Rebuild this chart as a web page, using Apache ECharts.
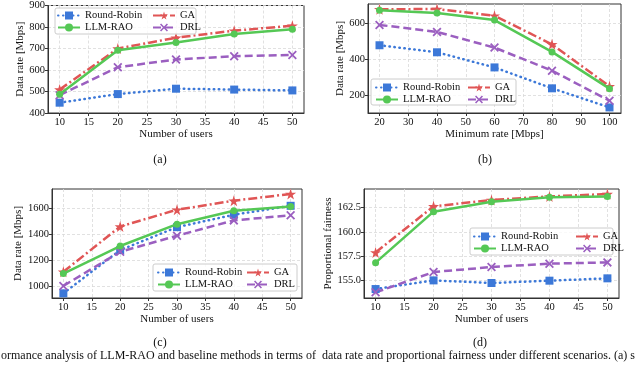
<!DOCTYPE html>
<html>
<head>
<meta charset="utf-8">
<script src="https://cdn.jsdelivr.net/npm/echarts@6/dist/echarts.min.js"></script>
<style>
  html, body { margin: 0; padding: 0; background: #fff; }
  #chart { width: 640px; height: 365px; }
</style>
</head>
<body>
<div id="chart"></div>
<script>
// data
const seriesNames = ['Round-Robin', 'LLM-RAO', 'GA', 'DRL'];

const usersA = [10, 20, 30, 40, 50];
const rrA = [448, 488, 513, 509, 505];
const llmA = [487, 692, 728, 767, 789];
const gaA = [509, 700, 750, 783, 806];
const drlA = [483, 613, 649, 664, 670];

const minRateB = [20, 40, 60, 80, 100];
const rrB = [480, 441, 357, 241, 135];
const llmB = [674, 659, 620, 443, 239];
const gaB = [680, 681, 644, 485, 252];
const drlB = [593, 554, 467, 339, 172];

const usersC = [10, 20, 30, 40, 50];
const rrC = [943, 1275, 1451, 1546, 1615];
const llmC = [1095, 1306, 1474, 1577, 1610];
const gaC = [1108, 1456, 1585, 1654, 1706];
const drlC = [1000, 1262, 1385, 1503, 1542];

const usersD = [10, 20, 30, 40, 50];
const rrD = [154.14, 155.03, 154.76, 155.0, 155.24];
const llmD = [156.85, 162.09, 163.12, 163.56, 163.66];
const gaD = [157.9, 162.64, 163.29, 163.66, 163.9];
const drlD = [153.8, 155.89, 156.4, 156.75, 156.88];

const xTicksUsers = [10, 15, 20, 25, 30, 35, 40, 45, 50];
const xTicksRate = [20, 30, 40, 50, 60, 70, 80, 90, 100];
const yTicksA = [400, 500, 600, 700, 800, 900];
const yTicksB = [200, 400, 600];
const yTicksC = [1000, 1200, 1400, 1600];
const yTicksD = [155, 157.5, 160, 162.5];

const FONT = '"Liberation Serif", "DejaVu Serif", serif';
const colors = ['#3c78d8', '#55c855', '#e05555', '#9b5fc0'];
const starPath = 'path://M50,0L61,35L98,35L68,57L79,91L50,70L21,91L32,57L2,35L39,35Z';
const xPath = 'path://M0,1.4L1.4,0L5,3.6L8.6,0L10,1.4L6.4,5L10,8.6L8.6,10L5,6.4L1.4,10L0,8.6L3.6,5Z';
const styles = [
  { symbol: 'rect', symbolSize: 8, type: [0.5, 4.5], cap: 'round' },
  { symbol: 'circle', symbolSize: 7, type: 'solid', cap: 'butt' },
  { symbol: starPath, symbolSize: 11, type: [9, 3, 2, 3], cap: 'butt' },
  { symbol: xPath, symbolSize: 9, type: [8, 4], cap: 'butt' }
];

const grids = [
  { left: 48, top: 5, width: 256, height: 108 },
  { left: 368, top: 4, width: 253, height: 109 },
  { left: 52, top: 189, width: 250, height: 109 },
  { left: 364, top: 189, width: 255, height: 109 }
];

function xAxis(idx, min, max, ticks, name) {
  return {
    type: 'value', gridIndex: idx, min: min, max: max,
    name: name, nameLocation: 'middle', nameGap: 14,
    nameTextStyle: { fontFamily: FONT, fontSize: 11, color: '#111' },
    axisLine: { show: true, lineStyle: { color: '#333', width: 1 } },
    axisTick: { show: true, length: 3, customValues: ticks, lineStyle: { color: '#333' } },
    axisLabel: { customValues: ticks, fontFamily: FONT, fontSize: 10.5, color: '#111', margin: 4 },
    splitLine: { show: true, lineStyle: { color: '#d9d9d9', type: [3, 2], width: 0.8 } }
  };
}
function yAxis(idx, min, max, ticks, name, gap, fmt) {
  return {
    type: 'value', gridIndex: idx, min: min, max: max,
    name: name, nameLocation: 'middle', nameGap: gap,
    nameTextStyle: { fontFamily: FONT, fontSize: 11, color: '#111' },
    axisLine: { show: true, lineStyle: { color: '#333', width: 1 } },
    axisTick: { show: true, length: 3, customValues: ticks, lineStyle: { color: '#333' } },
    axisLabel: { customValues: ticks, fontFamily: FONT, fontSize: 10.5, color: '#111', margin: 3, formatter: fmt || (v => String(v)) },
    splitLine: { show: true, lineStyle: { color: '#d9d9d9', type: [3, 2], width: 0.8 } }
  };
}

function pairs(xs, ys) { return xs.map((x, i) => [x, ys[i]]); }

const panelData = [
  [usersA, [rrA, llmA, gaA, drlA]],
  [minRateB, [rrB, llmB, gaB, drlB]],
  [usersC, [rrC, llmC, gaC, drlC]],
  [usersD, [rrD, llmD, gaD, drlD]]
];

const series = [];
panelData.forEach((p, gi) => {
  p[1].forEach((ys, si) => {
    const st = styles[si];
    series.push({
      name: seriesNames[si], type: 'line', xAxisIndex: gi, yAxisIndex: gi,
      data: pairs(p[0], ys),
      symbol: st.symbol, symbolSize: st.symbolSize, showAllSymbol: true,
      z: si === 2 ? 3 : (si === 1 ? 4 : 2),
      itemStyle: { color: colors[si] },
      lineStyle: { color: colors[si], width: 2.5, type: st.type, cap: st.cap },
      animation: false
    });
  });
});

// legend positions: [left of column 1, left of column 2, top]
const legendPos = [
  [57, 152, 10],
  [375, 467, 82],
  [157, 246, 267],
  [473, 575, 231]
];
const legendBoxes = [
  [55, 8, 141, 26],
  [371, 79, 145, 26],
  [153, 264, 144, 27],
  [470, 228, 143, 27]
];
const legends = [];
legendPos.forEach(lp => {
  [[seriesNames[0], seriesNames[1]], [seriesNames[2], seriesNames[3]]].forEach((names, c) => {
    legends.push({
      data: names, orient: 'vertical', left: lp[c], top: lp[2],
      padding: 0, itemGap: 1, itemWidth: 22, itemHeight: 10,
      selectedMode: false, z: 20,
      textStyle: { fontFamily: FONT, fontSize: 10.5, color: '#111', lineHeight: 11, padding: [0, 0, 0, 0] }
    });
  });
});

const graphics = legendBoxes.map(b => ({
  type: 'rect', shape: { x: b[0], y: b[1], width: b[2], height: b[3], r: 2 },
  style: { fill: 'rgba(255,255,255,0.8)', stroke: '#cccccc', lineWidth: 1 }, z: 10
}));
[['(a)', 160, 160], ['(b)', 485, 160], ['(c)', 160, 343], ['(d)', 480, 343]].forEach(t => {
  graphics.push({ type: 'text', x: t[1], y: t[2], style: { text: t[0], font: '12px ' + FONT, fill: '#111', align: 'center', verticalAlign: 'middle' } });
});
graphics.push({ type: 'text', x: 1, y: 356, style: { text: 'ormance analysis of LLM-RAO and baseline methods in terms of', font: '12px ' + FONT, fill: '#111', align: 'left', verticalAlign: 'middle' } });
graphics.push({ type: 'text', x: 322, y: 356, style: { text: 'data rate and proportional fairness under different scenarios. (a) s', font: '12px ' + FONT, fill: '#111', align: 'left', verticalAlign: 'middle' } });

const chart = echarts.init(document.getElementById('chart'), null, { renderer: 'canvas' });
chart.setOption({
  animation: false,
  grid: grids.map(g => Object.assign({ show: true, borderColor: '#333', borderWidth: 1, backgroundColor: 'transparent' }, g)),
  xAxis: [
    xAxis(0, 8, 52, xTicksUsers, 'Number of users'),
    xAxis(1, 16, 104, xTicksRate, 'Minimum rate [Mbps]'),
    xAxis(2, 8, 52, xTicksUsers, 'Number of users'),
    xAxis(3, 8, 52, xTicksUsers, 'Number of users')
  ],
  yAxis: [
    yAxis(0, 400, 900, yTicksA, 'Data rate [Mbps]', 17),
    yAxis(1, 104, 709, yTicksB, 'Data rate [Mbps]', 20),
    yAxis(2, 907, 1744, yTicksC, 'Data rate [Mbps]', 24),
    yAxis(3, 153.22, 164.42, yTicksD, 'Proportional fairness', 26, v => v.toFixed(1))
  ],
  legend: legends,
  graphic: graphics,
  series: series
});
</script>
</body>
</html>
